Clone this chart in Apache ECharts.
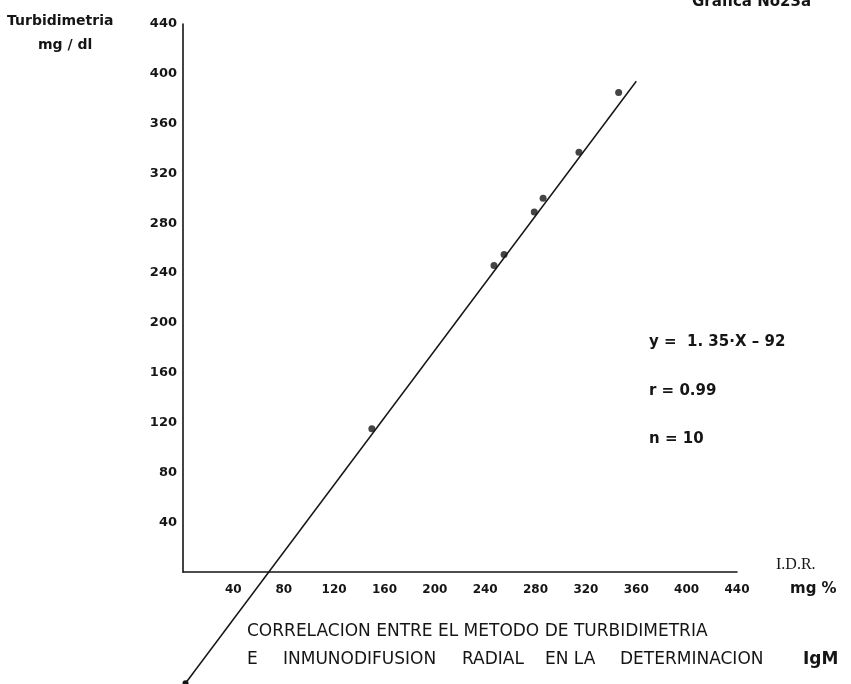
<!DOCTYPE html>
<html>
<head>
<meta charset="utf-8">
<title>Correlación Turbidimetría / IDR – IgM</title>
<script src="https://cdn.jsdelivr.net/npm/echarts@6/dist/echarts.min.js"></script>
<style>
  html, body { margin: 0; padding: 0; background: #fff; }
  #chart { width: 851px; height: 684px; }
</style>
</head>
<body>
<div id="chart"></div>
<script>
// Measured pairs: radial immunodiffusion (x, mg%) vs turbidimetry (y, mg/dl)
const idr  = [150, 247, 255, 279, 286, 314.5, 346];
const turb = [115, 246, 255, 289, 300, 337, 385];

// Regression y = 1.35·x − 92, drawn over this x span
const slope = 1.35;
const intercept = -92;
const fitRange = [2, 360];

// Axis ticks (both axes run 0–440 in steps of 40)
const axisMin = 0;
const axisMax = 440;
const axisStep = 40;

const ink = '#151515';
const sans = '"DejaVu Sans", "Liberation Sans", sans-serif';

const points = idr.map((x, i) => [x, turb[i]]);
const fitLine = fitRange.map((x, i) => ({
  value: [x, slope * x + intercept],
  symbol: i === 0 ? 'circle' : 'none',
  symbolSize: 6
}));

const chart = echarts.init(document.getElementById('chart'), null, { renderer: 'canvas' });

const axisCommon = {
  type: 'value',
  min: axisMin,
  max: axisMax,
  interval: axisStep,
  splitLine: { show: false },
  axisTick: { show: false },
  axisLine: { show: true, lineStyle: { color: ink, width: 1.6 } }
};

// Caption text, second line laid out word by word
const captionFont = '17px ' + sans;
const captionLine2 = [
  ['E', 247, ''], ['INMUNODIFUSION', 283, ''], ['RADIAL', 462, ''], ['EN LA', 545, ''],
  ['DETERMINACION', 620, ''], ['IgM', 803, 'bold ']
];

const graphics = [
  { type: 'text', left: 692, top: -5,
    style: { text: 'Grafica No23a', font: 'bold 15px ' + sans, fill: ink } },
  { type: 'text', left: 7, top: 14,
    style: { text: 'Turbidimetria', font: 'bold 14px ' + sans, fill: ink } },
  { type: 'text', left: 38, top: 38,
    style: { text: 'mg / dl', font: 'bold 14px ' + sans, fill: ink } },
  { type: 'text', left: 776, top: 557,
    style: { text: 'I.D.R.', font: '16px "Liberation Serif", "DejaVu Serif", serif', fill: ink } },
  { type: 'text', left: 790, top: 582,
    style: { text: 'mg %', font: 'bold 15px ' + sans, fill: ink } },
  { type: 'text', left: 649, top: 335,
    style: { text: 'y =  1. 35·X – 92', font: 'bold 15px ' + sans, fill: ink } },
  { type: 'text', left: 649, top: 384,
    style: { text: 'r = 0.99', font: 'bold 15px ' + sans, fill: ink } },
  { type: 'text', left: 649, top: 432,
    style: { text: 'n = 10', font: 'bold 15px ' + sans, fill: ink } },
  { type: 'text', left: 247, top: 623,
    style: { text: 'CORRELACION ENTRE EL METODO DE TURBIDIMETRIA', font: captionFont, fill: ink } }
].concat(captionLine2.map(([word, x, weight]) => ({
  type: 'text', left: x, top: 651,
  style: { text: word, font: weight + captionFont, fill: ink }
})));

chart.setOption({
  animation: false,
  backgroundColor: '#fff',
  grid: { left: 183, right: 114, top: 24, bottom: 112, containLabel: false },
  xAxis: Object.assign({}, axisCommon, {
    axisLabel: {
      showMinLabel: false,
      margin: 12,
      color: ink,
      fontFamily: sans,
      fontWeight: 'bold',
      fontSize: 12
    }
  }),
  yAxis: Object.assign({}, axisCommon, {
    axisLabel: {
      showMinLabel: false,
      margin: 6,
      color: ink,
      fontFamily: sans,
      fontWeight: 'bold',
      fontSize: 13
    }
  }),
  series: [
    {
      name: 'Regresión',
      type: 'line',
      data: fitLine,
      clip: false,
      silent: true,
      lineStyle: { color: ink, width: 1.5 },
      itemStyle: { color: ink },
      z: 2
    },
    {
      name: 'Muestras',
      type: 'scatter',
      data: points,
      symbol: 'circle',
      symbolSize: 7,
      itemStyle: { color: ink },
      z: 3
    }
  ],
  graphic: graphics
});
</script>
</body>
</html>
